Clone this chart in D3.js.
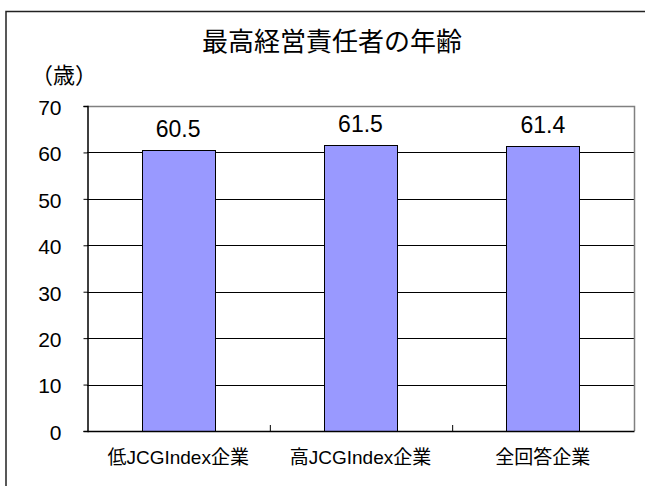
<!DOCTYPE html>
<html><head><meta charset="utf-8">
<script src="https://cdn.jsdelivr.net/npm/d3@7"></script>
<style>
html,body{margin:0;padding:0;background:#fff;}
svg{display:block;}
text{font-family:"Liberation Sans","Noto Sans CJK JP",sans-serif;fill:#000;}
</style></head>
<body>
<svg id="c" width="645" height="486"></svg>
<script>
const title = "最高経営責任者の年齢";
const unitLabel = "（歳）";
const categories = ["低JCGIndex企業", "高JCGIndex企業", "全回答企業"];
const values = [60.5, 61.5, 61.4];
const yTicks = [0, 10, 20, 30, 40, 50, 60, 70];

const svg = d3.select("#c");
const W = 645, H = 486;
const plot = {left: 87, right: 634, top: 106, bottom: 431};

// outer chart border (extends past right/bottom edge)
svg.append("rect").attr("x", 6).attr("y", 11.5).attr("width", 700).attr("height", 600)
  .attr("fill", "#fff").attr("stroke", "#222").attr("stroke-width", 1.5);

const x = d3.scaleBand().domain(categories).range([plot.left, plot.right]).padding(0);
const y = d3.scaleLinear().domain([0, 70]).range([plot.bottom, plot.top]);

// gridlines
svg.append("g").selectAll("line").data(yTicks.filter(d => d > 0 && d < 70)).join("line")
  .attr("x1", plot.left).attr("x2", plot.right)
  .attr("y1", d => Math.round(y(d)) + 0.5).attr("y2", d => Math.round(y(d)) + 0.5)
  .attr("stroke", "#000").attr("stroke-width", 1);

// top & right plot border (gray)
svg.append("path")
  .attr("d", `M${plot.left},${Math.round(y(70)) + 0.5}H${plot.right + 0.5}V${plot.bottom}`)
  .attr("fill", "none").attr("stroke", "#808080").attr("stroke-width", 1.5);

// bars
const bw = x.bandwidth() * 0.4;
svg.append("g").selectAll("rect").data(values).join("rect")
  .attr("x", (d, i) => Math.round(x(categories[i]) + (x.bandwidth() - bw) / 2) + 0.5)
  .attr("y", d => Math.round(y(d)) + 0.5)
  .attr("width", Math.round(bw))
  .attr("height", d => Math.round(y(0)) - Math.round(y(d)))
  .attr("fill", "#9999FF").attr("stroke", "#000").attr("stroke-width", 1);

// value labels
svg.append("g").selectAll("text").data(values).join("text")
  .attr("x", (d, i) => x(categories[i]) + x.bandwidth() / 2)
  .attr("y", d => y(d) - 13)
  .attr("text-anchor", "middle").attr("font-size", 23)
  .text(d => d.toFixed(1));

// y axis
const yAxis = svg.append("g").attr("transform", `translate(${plot.left + 0.5},0)`)
  .call(d3.axisLeft(y).tickValues(yTicks).tickSize(4).tickPadding(22).tickFormat(d3.format("d")));
yAxis.select(".domain").attr("stroke", "#000").attr("stroke-width", 1.5);
yAxis.selectAll(".tick line").attr("stroke", "#000");
yAxis.selectAll(".tick text").attr("font-size", 21).attr("font-family", null).attr("dy", "0.4em");

// x axis labels
const xAxis = svg.append("g").attr("transform", `translate(0,${plot.bottom})`)
  .call(d3.axisBottom(x).tickSize(0).tickPadding(20));
xAxis.select(".domain").attr("stroke", "#000").attr("stroke-width", 1.5);
xAxis.selectAll(".tick text").attr("font-size", 19).attr("font-family", null).attr("dy", "0.71em");

// x boundary ticks (inside, upward)
const xi = d3.scaleLinear().domain([0, categories.length]).range([plot.left, plot.right]);
const xt = svg.append("g").attr("transform", `translate(0.5,${plot.bottom})`)
  .call(d3.axisBottom(xi).tickValues(d3.range(1, categories.length)).tickSize(-6).tickFormat(""));
xt.select(".domain").remove();
xt.selectAll(".tick line").attr("stroke", "#000");

// title
svg.append("text").attr("x", 332).attr("y", 51).attr("text-anchor", "middle")
  .attr("font-size", 26).text(title);
// unit
svg.append("text").attr("x", 64).attr("y", 83).attr("text-anchor", "middle")
  .attr("font-size", 22).text(unitLabel);
</script>
</body></html>
